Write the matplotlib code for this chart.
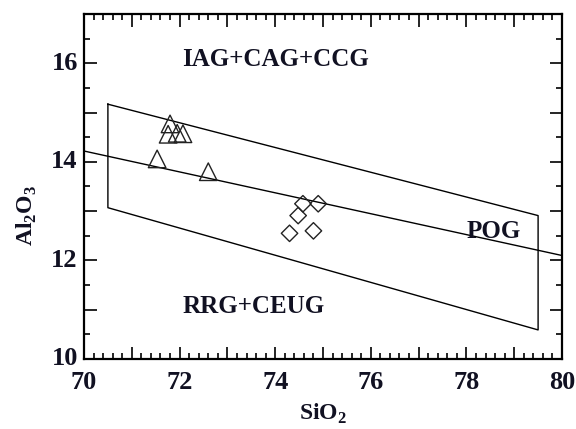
import matplotlib
matplotlib.use("Agg")
import matplotlib.pyplot as plt
from matplotlib.ticker import MultipleLocator

plt.rcParams['font.family'] = ['Liberation Serif', 'DejaVu Serif']
plt.rcParams['font.weight'] = 'bold'
plt.rcParams['mathtext.fontset'] = 'custom'
plt.rcParams['mathtext.rm'] = 'Liberation Serif:bold'
plt.rcParams['mathtext.bf'] = 'Liberation Serif:bold'

# Data: triangles and diamonds (SiO2, Al2O3)
tri_sio2 = [71.8, 71.76, 71.95, 72.07, 71.53, 72.6]
tri_al2o3 = [14.77, 14.56, 14.58, 14.57, 14.06, 13.8]
dia_sio2 = [74.58, 74.9, 74.48, 74.3, 74.8]
dia_al2o3 = [13.15, 13.15, 12.91, 12.55, 12.6]

# Discrimination boundaries
box_x = [70.5, 79.5, 79.5, 70.5, 70.5]
box_y = [15.17, 12.91, 10.59, 13.07, 15.17]
mid_x = [70, 80]
mid_y = [14.22, 12.1]

fields = ["IAG+CAG+CCG", "POG", "RRG+CEUG"]
field_x = [74.0, 78.58, 73.55]
field_y = [16.08, 12.59, 11.07]

TXT = '#111122'

fig = plt.figure(figsize=(5.76, 4.29), dpi=100)
ax = fig.add_axes([84/576, 1-359/429, (562-84)/576, (359-14)/429])

ax.plot(box_x, box_y, color='black', lw=1.0)
ax.plot(mid_x, mid_y, color='black', lw=1.0)
ax.scatter(tri_sio2, tri_al2o3, marker='^', s=160, facecolors='none', edgecolors='#222222', linewidths=1.0, zorder=3)
ax.scatter(dia_sio2, dia_al2o3, marker='D', s=70, facecolors='none', edgecolors='#222222', linewidths=1.0, zorder=3)

for t, x, y in zip(fields, field_x, field_y):
    ax.text(x, y, t, ha='center', va='center', fontsize=18, fontweight='bold', color=TXT)

ax.set_xlim(70, 80)
ax.set_ylim(10, 17)
ax.xaxis.set_major_locator(MultipleLocator(1))
ax.xaxis.set_minor_locator(MultipleLocator(0.2))
ax.yaxis.set_major_locator(MultipleLocator(1))
ax.yaxis.set_minor_locator(MultipleLocator(0.5))
ax.set_xticklabels([])
ax.set_yticklabels([])
ax.tick_params(which='both', direction='in', top=True, right=True, width=1.2)
ax.tick_params(which='major', length=9)
ax.tick_params(which='minor', length=4.5)
for s in ax.spines.values():
    s.set_linewidth(1.6)

for v in [70, 72, 74, 76, 78, 80]:
    ax.text(v, -0.035, str(v), transform=ax.get_xaxis_transform(), ha='center', va='top',
            fontsize=19, fontweight='bold', color=TXT)
for v in [10, 12, 14, 16]:
    ax.text(-0.013, v, str(v), transform=ax.get_yaxis_transform(), ha='right', va='center',
            fontsize=19, fontweight='bold', color=TXT)

ax.set_xlabel(r'SiO$_{2}$', fontsize=17, fontweight='bold', color=TXT)
ax.xaxis.set_label_coords(0.5, -(414-359)/345, transform=ax.transAxes)
ax.set_ylabel(r'Al$_{2}$O$_{3}$', fontsize=17, fontweight='bold', color=TXT)
ax.yaxis.set_label_coords(-(84-27)/478, (359-215)/345, transform=ax.transAxes)
ax.yaxis.label.set_va('center')
ax.xaxis.label.set_va('center')

fig.savefig('out.png', dpi=100)
